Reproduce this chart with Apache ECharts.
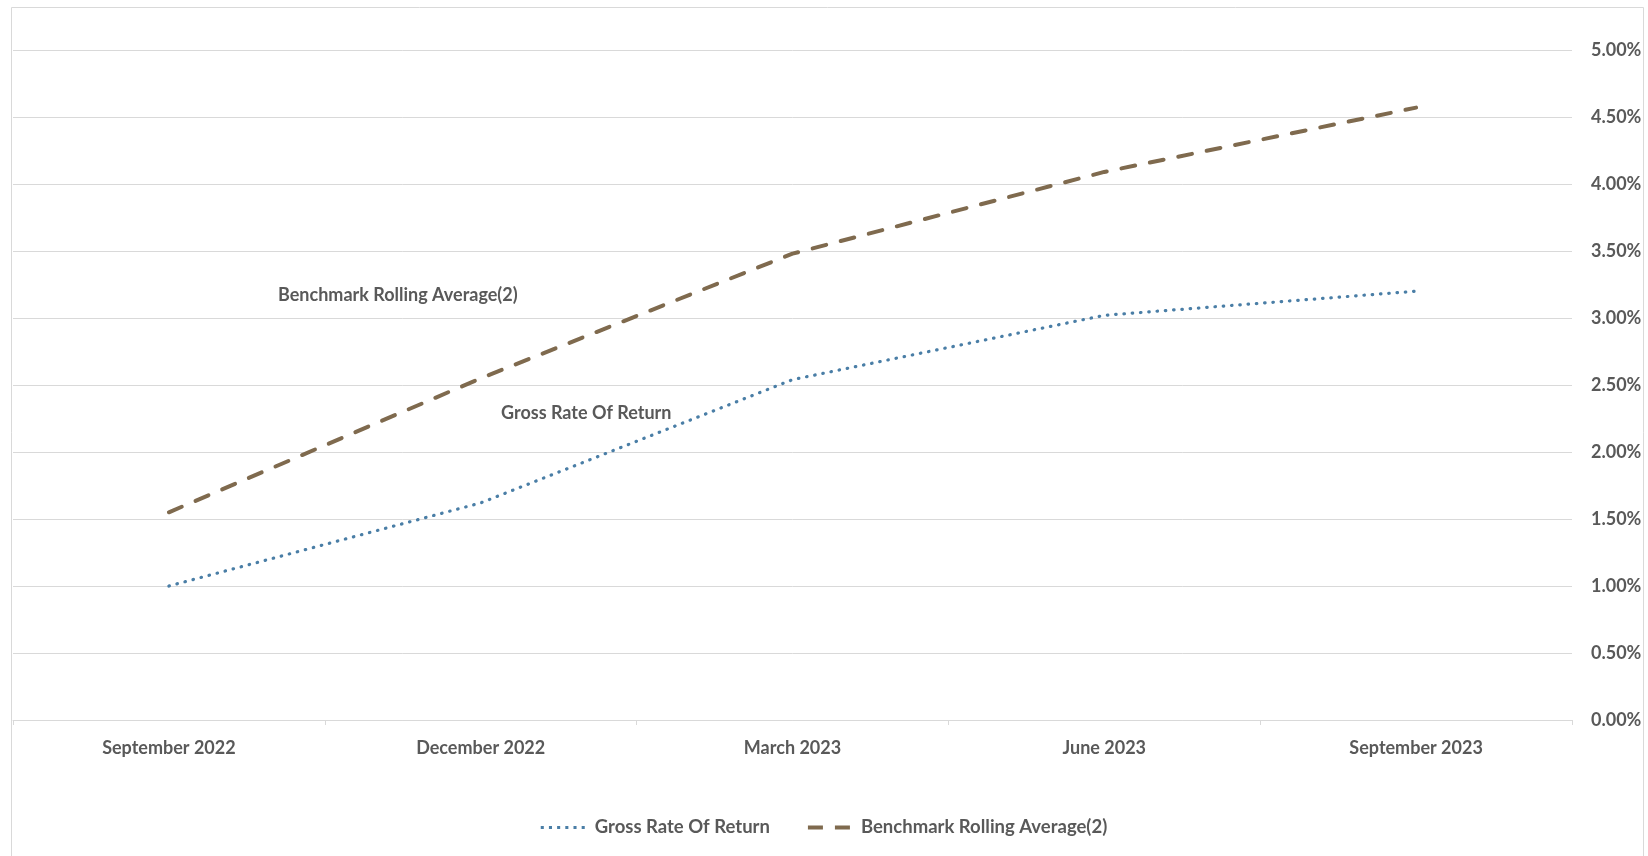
<!DOCTYPE html>
<html>
<head>
<meta charset="utf-8">
<script src="https://cdn.jsdelivr.net/npm/echarts@6/dist/echarts.min.js"></script>
<style>
html,body{margin:0;padding:0;background:#fff;}
#chart{width:1648px;height:856px;}
</style>
</head>
<body>
<div id="chart"></div>
<script>
const categories = ['September 2022', 'December 2022', 'March 2023', 'June 2023', 'September 2023'];
const grossRateOfReturn = [1.00, 1.62, 2.54, 3.02, 3.20];
const benchmarkRollingAvg = [1.55, 2.55, 3.48, 4.09, 4.57];
const seriesNames = ['Gross Rate Of Return', 'Benchmark Rolling Average(2)'];

const FONT = 'Lato, "Open Sans", sans-serif';
const TXT = '#595959';
const GRID = '#d9d9d9';
const BLUE = '#4a7ea6';
const BROWN = '#7f6a4e';
const FS = 18;

const dotIcon = 'path://M0,0h3v3h-3z M8,0h3v3h-3z M16,0h3v3h-3z M24,0h3v3h-3z M32,0h3v3h-3z M40,0h3v3h-3z';
const dashIcon = 'path://M0,0h15v4h-15z M27,0h15v4h-15z';

const chart = echarts.init(document.getElementById('chart'), null, {renderer: 'canvas'});
chart.setOption({
  animation: false,
  backgroundColor: '#fff',
  textStyle: {fontFamily: FONT},
  grid: {left: 13, right: 76, top: 50, bottom: 136, containLabel: false},
  graphic: [
    {type: 'rect', shape: {x: 11.5, y: 7.5, width: 1632, height: 870}, style: {fill: 'none', stroke: GRID, lineWidth: 1}, silent: true, z: -1},
    {type: 'text', left: 278, top: 286, style: {text: seriesNames[1], fill: TXT, font: 'bold ' + FS + 'px ' + FONT}},
    {type: 'text', left: 501, top: 404, style: {text: seriesNames[0], fill: TXT, font: 'bold ' + FS + 'px ' + FONT}}
  ],
  legend: {
    bottom: 14,
    left: 'center',
    itemWidth: 44,
    itemHeight: 4,
    itemGap: 38,
    textStyle: {color: TXT, fontSize: 18.5, fontWeight: 'bold', fontFamily: FONT, padding: [0, 0, 0, 5]},
    data: [
      {name: seriesNames[0], icon: dotIcon},
      {name: seriesNames[1], icon: dashIcon}
    ]
  },
  xAxis: {
    type: 'category',
    data: categories,
    boundaryGap: true,
    axisLine: {show: true, lineStyle: {color: GRID, width: 1}},
    axisTick: {show: true, length: 5, lineStyle: {color: GRID}},
    axisLabel: {color: TXT, fontSize: FS, fontWeight: 'bold', fontFamily: FONT, margin: 19},
    splitLine: {show: false}
  },
  yAxis: {
    type: 'value',
    position: 'right',
    min: 0,
    max: 5,
    interval: 0.5,
    axisLine: {show: false},
    axisTick: {show: false},
    axisLabel: {color: TXT, fontSize: FS, fontWeight: 'bold', fontFamily: FONT, margin: 19,
      formatter: v => v.toFixed(2) + '%'},
    splitLine: {lineStyle: {color: GRID, width: 1}}
  },
  series: [
    {
      name: seriesNames[0],
      type: 'line',
      data: grossRateOfReturn,
      symbol: 'none',
      color: BLUE,
      lineStyle: {color: BLUE, width: 3.2, type: [0.5, 7.8], cap: 'round'}
    },
    {
      name: seriesNames[1],
      type: 'line',
      data: benchmarkRollingAvg,
      symbol: 'none',
      color: BROWN,
      lineStyle: {color: BROWN, width: 4, type: [14, 15], cap: 'round'}
    }
  ]
});
</script>
</body>
</html>
